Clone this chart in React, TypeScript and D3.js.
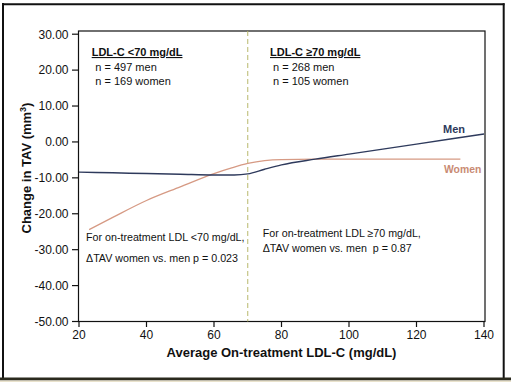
import React from "react";
import * as d3 from "d3";

const menX = [20, 30, 40, 50, 60, 66, 70, 75, 80, 90, 100, 110, 120, 130, 140];
const menY = [-8.4, -8.6, -8.8, -9.0, -9.2, -9.2, -8.9, -7.6, -6.4, -4.8, -3.4, -2.0, -0.6, 0.8, 2.2];
const womenX = [23, 30, 40, 50, 60, 65, 70, 75, 80, 90, 110, 133];
const womenY = [-24.4, -21.0, -16.3, -12.5, -8.8, -7.3, -6.0, -5.2, -4.9, -4.8, -4.8, -4.8];
const xTicks = [20, 40, 60, 80, 100, 120, 140];
const yTicks = [30, 20, 10, 0, -10, -20, -30, -40, -50];
const cutoff = 70;

const FONT = "'Liberation Sans', Arial, Helvetica, sans-serif";
const MEN_COLOR = "#2e3a5c";
const WOMEN_COLOR = "#d69a84";

export default function App() {
  const W = 511, H = 382;
  const left = 78.5, right = 485, top = 31, bottom = 321.5;
  const x = d3.scaleLinear().domain([20, 140]).range([79, 484]);
  const y = d3.scaleLinear().domain([-50, 30]).range([321.5, 34.2]);

  const line = d3
    .line<[number, number]>()
    .x((d) => x(d[0]))
    .y((d) => y(d[1]))
    .curve(d3.curveMonotoneX);

  const menPts = menX.map((v, i) => [v, menY[i]] as [number, number]);
  const womenPts = womenX.map((v, i) => [v, womenY[i]] as [number, number]);

  return (
    <svg
      width={W}
      height={H}
      style={{ position: "absolute", left: 0, top: 0, background: "#fff" }}
      fontFamily={FONT}
    >
      {/* outer frame */}
      <rect x={0} y={0} width={W} height={H} fill="#fff" />
      <line x1={3} y1={3} x2={3} y2={378} stroke="#111" strokeWidth={2} />
      <line x1={2} y1={4.3} x2={504.5} y2={4.3} stroke="#111" strokeWidth={2} />
      <line x1={503.7} y1={3.3} x2={503.7} y2={378} stroke="#111" strokeWidth={2} />
      <rect x={0} y={377.5} width={W} height={3} fill="#2b2a1e" />
      <rect x={0} y={380.5} width={W} height={1.5} fill="#e9e2cc" />

      {/* plot box */}
      <rect x={left} y={top} width={right - left} height={bottom - top} fill="none" stroke="#111" strokeWidth={1.2} />

      {/* y ticks */}
      {yTicks.map((t) => (
        <g key={"y" + t}>
          <line x1={72} x2={left} y1={y(t)} y2={y(t)} stroke="#111" strokeWidth={1.2} />
          <text x={68.5} y={y(t) + 4.3} fontSize={12} textAnchor="end" fill="#111">
            {t.toFixed(2)}
          </text>
        </g>
      ))}
      {/* x ticks */}
      {xTicks.map((t) => (
        <g key={"x" + t}>
          <line x1={x(t)} x2={x(t)} y1={bottom} y2={327} stroke="#111" strokeWidth={1.2} />
          <text x={x(t)} y={339} fontSize={12} textAnchor="middle" fill="#111">
            {t}
          </text>
        </g>
      ))}

      {/* axis titles */}
      <text x={281.5} y={356.5} fontSize={13} fontWeight="bold" textAnchor="middle" fill="#111">
        Average On-treatment LDL-C (mg/dL)
      </text>
      <text
        transform={`translate(31,168) rotate(-90)`}
        fontSize={13}
        fontWeight="bold"
        textAnchor="middle"
        fill="#111"
      >
        Change in TAV (mm
        <tspan fontSize={9} dy={-5}>3</tspan>
        <tspan dy={5}>)</tspan>
      </text>

      {/* cutoff dashed line */}
      <line
        x1={x(cutoff)}
        x2={x(cutoff)}
        y1={top}
        y2={bottom}
        stroke="#b9b86c"
        strokeWidth={1}
        strokeDasharray="5,3"
      />

      {/* lines */}
      <path d={line(womenPts) || ""} fill="none" stroke={WOMEN_COLOR} strokeWidth={1.3} />
      <path d={line(menPts) || ""} fill="none" stroke={MEN_COLOR} strokeWidth={1.4} />

      {/* series labels */}
      <text x={443} y={132.5} fontSize={11} fontWeight="bold" fill={MEN_COLOR}>
        Men
      </text>
      <text x={444} y={173} fontSize={10.4} fontWeight="bold" fill="#c98b73">
        Women
      </text>

      {/* group annotations */}
      <text x={91.7} y={56} fontSize={11} fontWeight="bold" fill="#111" textDecoration="underline">
        LDL-C &lt;70 mg/dL
      </text>
      <text x={95.3} y={71} fontSize={11} fill="#111">
        n = 497 men
      </text>
      <text x={95.3} y={84.5} fontSize={11} fill="#111">
        n = 169 women
      </text>

      <text x={270} y={56} fontSize={11} fontWeight="bold" fill="#111" textDecoration="underline">
        LDL-C ≥70 mg/dL
      </text>
      <text x={273} y={71} fontSize={11} fill="#111">
        n = 268 men
      </text>
      <text x={273} y={84.5} fontSize={11} fill="#111">
        n = 105 women
      </text>

      <text x={86} y={240.5} fontSize={10.7} fill="#111">
        For on-treatment LDL &lt;70 mg/dL,
      </text>
      <text x={86} y={262} fontSize={10.7} fill="#111">
        ΔTAV women vs. men p = 0.023
      </text>

      <text x={262.7} y={236.5} fontSize={10.7} fill="#111">
        For on-treatment LDL ≥70 mg/dL,
      </text>
      <text x={262.7} y={251.5} fontSize={10.7} fill="#111" style={{ whiteSpace: "pre" }}>
        {"ΔTAV women vs. men  p = 0.87"}
      </text>
    </svg>
  );
}
